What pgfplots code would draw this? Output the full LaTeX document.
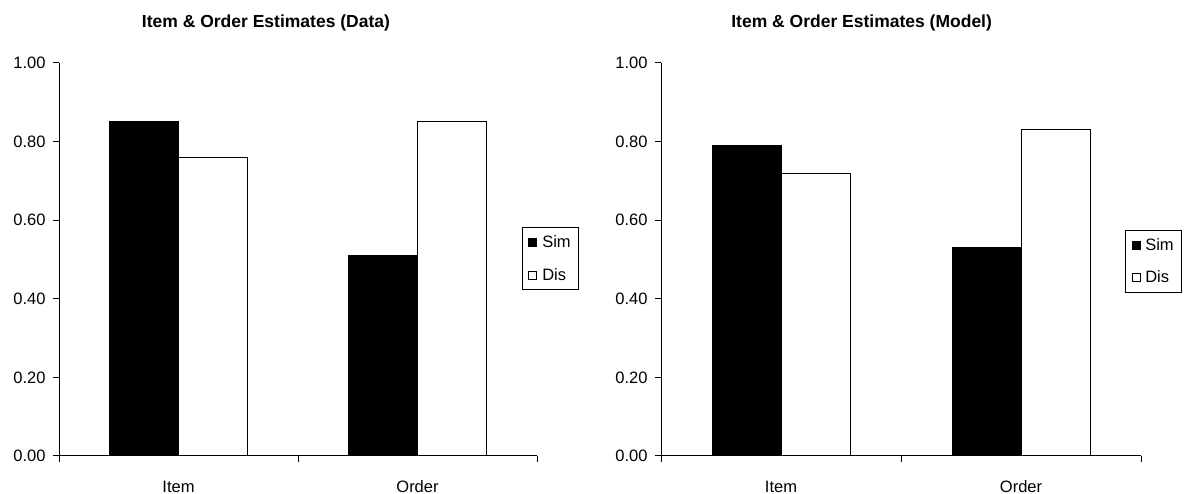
\documentclass[border=0pt]{standalone}
\usepackage{pgfplots}
\pgfplotsset{compat=1.18}
\usepackage{fontspec}
\setmainfont{Liberation Sans}
\begin{document}
\begin{tikzpicture}[x=1pt,y=1pt]
\useasboundingbox (0,0) rectangle (1187,494);
\pgfplotsset{
 myax/.style={
  scale only axis, height=393pt, anchor=south west,
  ybar=0pt, bar width=69pt,
  xmin=0, xmax=2, ymin=0, ymax=1,
  axis x line*=bottom, axis y line*=left,
  axis line style={line width=1pt, black},
  xtick={0,1,2}, xticklabels={Item,Order}, x tick label as interval,
  ytick={0,0.2,0.4,0.6,0.8,1},
  yticklabel style={xshift=-4pt, /pgf/number format/.cd, fixed, fixed zerofill, precision=2},
  /pgf/number format/assume math mode=true,
  tick align=outside, major tick length=6pt,
  tick style={line width=1pt, black},
  ticklabel style={font=\fontsize{16.5}{19}\selectfont},
  xticklabel style={text height=12pt, text depth=0pt, yshift=-15pt},
  title style={font=\bfseries\fontsize{17.5}{20}\selectfont, anchor=base, yshift=29pt},
  legend style={draw=black, line width=1pt, font=\fontsize{16.5}{19}\selectfont,
    anchor=north west, inner xsep=6pt, inner ysep=6pt, row sep=15pt,
    /tikz/every odd column/.append style={column sep=3pt}},
  legend cell align=left,
  legend image code/.code={\draw[#1, line width=0.8pt] (0pt,-4pt) rectangle (8pt,4pt);},
 }
}
\begin{axis}[myax, width=478pt, at={(59pt,38pt)},
  title={Item \& Order Estimates (Data)}, title style={at={(0.433,1)}},
  legend style={at={(0.9686,0.582)}}]
\addplot[fill=black, draw=black, line width=1pt] coordinates {(0.5,0.85) (1.5,0.51)};
\addplot[fill=white, draw=black, line width=1pt] coordinates {(0.5,0.76) (1.5,0.85)};
\legend{Sim,Dis}
\end{axis}
\begin{axis}[myax, width=480pt, at={(661pt,38pt)},
  title={Item \& Order Estimates (Model)}, title style={at={(0.418,1)}},
  legend style={at={(0.9667,0.575)}}]
\addplot[fill=black, draw=black, line width=1pt] coordinates {(0.5,0.79) (1.5,0.53)};
\addplot[fill=white, draw=black, line width=1pt] coordinates {(0.5,0.72) (1.5,0.83)};
\legend{Sim,Dis}
\end{axis}
\end{tikzpicture}
\end{document}
